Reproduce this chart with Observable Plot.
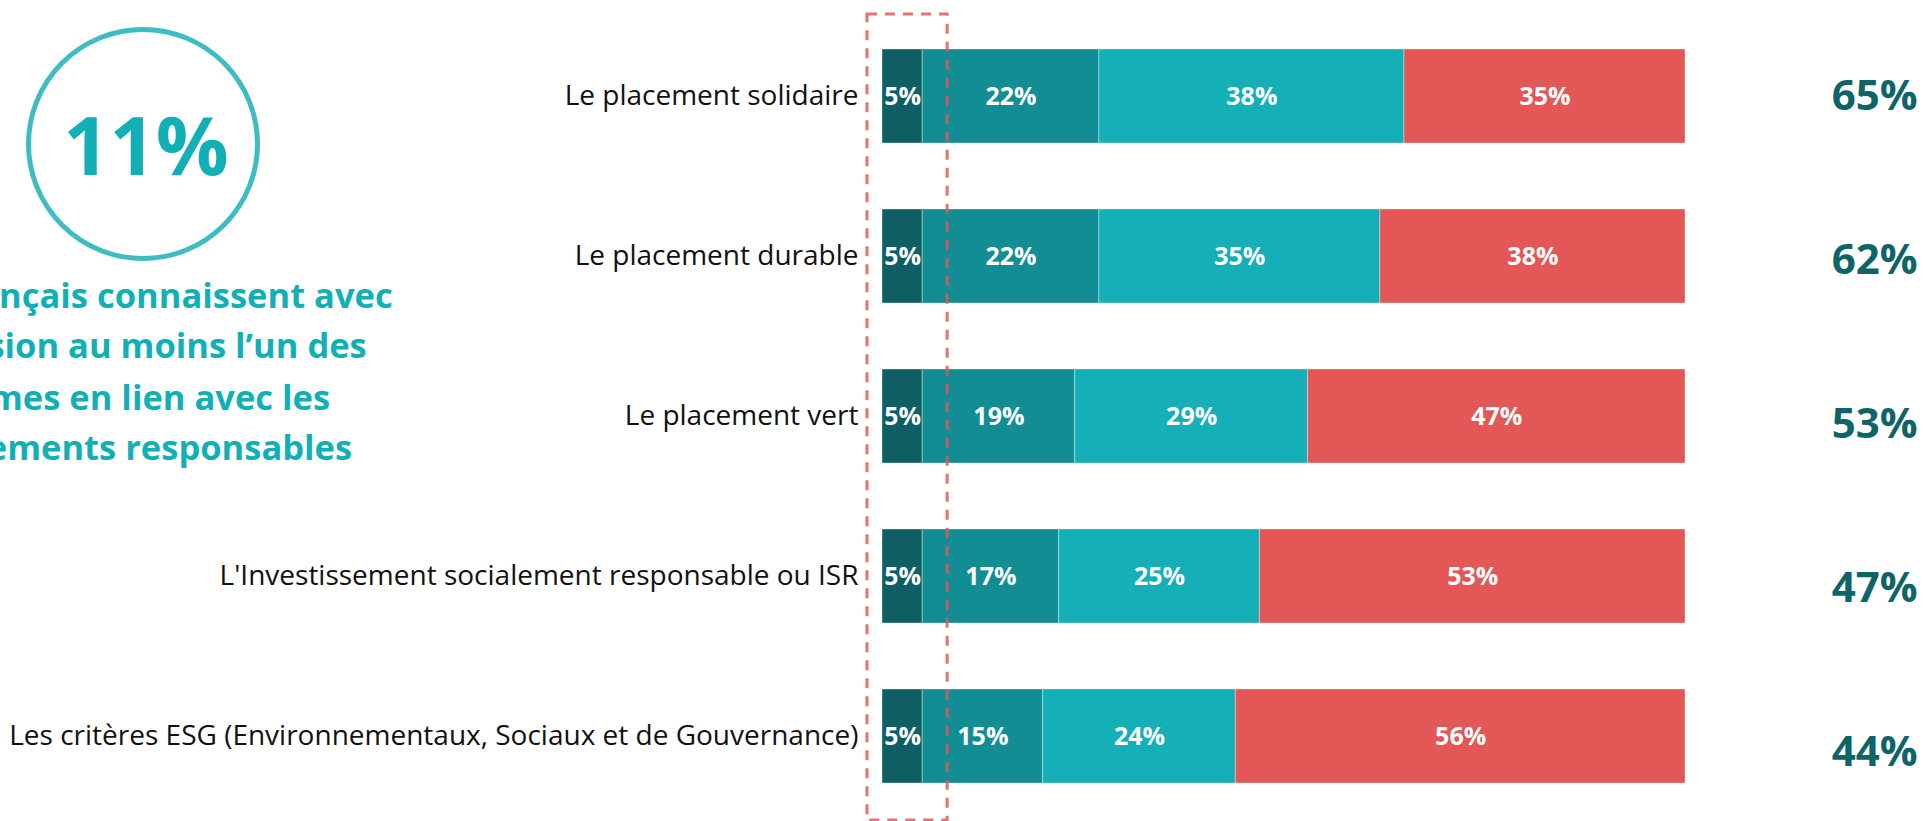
<!DOCTYPE html>
<html>
<head>
<meta charset="utf-8">
<script src="https://cdn.jsdelivr.net/npm/d3@7"></script>
<script src="https://cdn.jsdelivr.net/npm/@observablehq/plot@0.6"></script>
<style>
  html, body { margin: 0; padding: 0; background: #fff; overflow: hidden; }
  #wrap { position: relative; width: 1924px; height: 821px; font-family: "Open Sans", sans-serif; }
  #wrap > svg, #wrap > figure { position: absolute; left: 0; top: 0; margin: 0; }
  #circle { position: absolute; left: 25.5px; top: 27px; width: 234px; height: 234px; box-sizing: border-box;
            border: 5px solid #3dbcc3; border-radius: 50%; }
  #big { position: absolute; left: 146px; top: 143px; transform: translate(-50%, -50%);
         font-size: 81px; font-weight: 700; color: #13afb7; line-height: 1; white-space: nowrap; }
  .cap { position: absolute; left: 134px; transform: translateX(-50%); white-space: nowrap;
         font-size: 34.5px; font-weight: 700; color: #13afb7; line-height: 1; }
</style>
</head>
<body>
<div id="wrap">
  <div id="circle"></div>
  <div id="big">11%</div>
  <div class="cap" style="top:278px">des Français connaissent avec</div>
  <div class="cap" style="top:328px">précision au moins l’un des</div>
  <div class="cap" style="top:380px">termes en lien avec les</div>
  <div class="cap" style="top:430px">placements responsables</div>
</div>
<script>
const categories = [
  "Le placement solidaire",
  "Le placement durable",
  "Le placement vert",
  "L'Investissement socialement responsable ou ISR",
  "Les critères ESG (Environnementaux, Sociaux et de Gouvernance)"
];
const seriesNames = ["Oui, précisément", "Oui, dans les grandes lignes", "Oui, vaguement", "Non"];
const seriesColors = ["#0d5f63", "#118d93", "#14afb7", "#e35757"];
const s1 = [5, 5, 5, 5, 5];
const s2 = [22, 22, 19, 17, 15];
const s3 = [38, 35, 29, 25, 24];
const s4 = [35, 38, 47, 53, 56];
const totals = [65, 62, 53, 47, 44];

const seriesValues = [s1, s2, s3, s4];
const rows = [];
seriesValues.forEach((vals, si) => {
  vals.forEach((v, ci) => rows.push({cat: categories[ci], series: seriesNames[si], value: v}));
});

const W = 1924, H = 821;

const main = Plot.plot({
  width: W, height: H,
  marginLeft: 882, marginRight: 239, marginTop: 10, marginBottom: 0,
  style: {fontFamily: "Open Sans, sans-serif", background: "transparent", overflow: "visible"},
  x: {domain: [0, 100], axis: null},
  y: {domain: categories, paddingInner: 0.4125, paddingOuter: 0.2406, label: null},
  color: {domain: seriesNames, range: seriesColors},
  marks: [
    Plot.axisY({tickSize: 0, tickPadding: 24, fontSize: 28, fill: "#111", label: null}),
    Plot.barX(rows, {x: "value", y: "cat", fill: "series", stroke: "#ffffff", strokeOpacity: 0.35, strokeWidth: 1}),
    Plot.text(rows, Plot.stackX({x: "value", y: "cat", text: d => d.value + "%", fill: "white",
      fontSize: 25, fontWeight: "bold"})),
    Plot.rect([{x1: 0, x2: d3.max(s1)}], {x1: "x1", x2: "x2", fill: "none", stroke: "#e35757",
      strokeWidth: 3, strokeOpacity: 0.85, strokeDasharray: "10,8",
      insetLeft: -15, insetRight: -25, insetTop: 4, insetBottom: 1})
  ]
});

const totalsPlot = Plot.plot({
  width: W, height: H,
  marginLeft: 0, marginRight: 7, marginTop: 95, marginBottom: 69,
  style: {fontFamily: "Open Sans, sans-serif", background: "transparent"},
  x: {axis: null},
  y: {type: "point", domain: categories, padding: 0, axis: null},
  marks: [
    Plot.text(categories.map((c, i) => ({cat: c, total: totals[i]})), {
      y: "cat", text: d => d.total + "%", frameAnchor: "right", textAnchor: "end",
      fontSize: 42, fontWeight: "bold", fill: "#0f6468"})
  ]
});

const wrap = document.getElementById("wrap");
wrap.insertBefore(main, wrap.firstChild);
wrap.appendChild(totalsPlot);
</script>
</body>
</html>
